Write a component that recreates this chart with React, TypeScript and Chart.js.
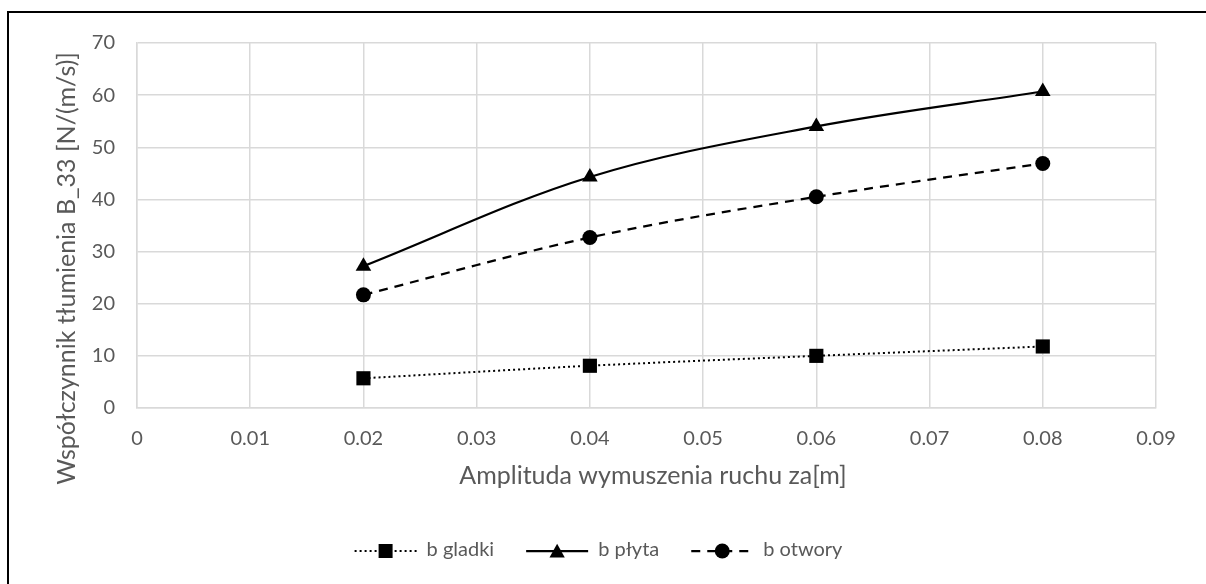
import React, { useEffect, useRef } from "react";
import { Chart, registerables } from "chart.js";

Chart.register(...registerables);

// ---- data ----
const xValues = [0.02, 0.04, 0.06, 0.08];
const gladki = [5.7, 8.1, 10.0, 11.8];
const plyta = [27.2, 44.3, 54.0, 60.7];
const otwory = [21.7, 32.7, 40.5, 46.9];
const seriesNames = ["b gladki", "b płyta", "b otwory"];
const xTickValues = [0, 0.01, 0.02, 0.03, 0.04, 0.05, 0.06, 0.07, 0.08, 0.09];
const xTickLabels = ["0", "0.01", "0.02", "0.03", "0.04", "0.05", "0.06", "0.07", "0.08", "0.09"];
const yTickValues = [0, 10, 20, 30, 40, 50, 60, 70];
const xTitle = "Amplituda wymuszenia ruchu za[m]";
const yTitle = "Współczynnik tłumienia B_33 [N/(m/s)]";

const FONT = "Lato, 'Open Sans', sans-serif";
const TEXT = "#595959";
const GRID = "#d9d9d9";

type Style = { dash: number[]; width: number; marker: string; r: number };
const styles: Style[] = [
  { dash: [2, 3], width: 2, marker: "rect", r: 7 },
  { dash: [], width: 2.25, marker: "triangle", r: 8.5 },
  { dash: [9, 7], width: 2.25, marker: "circle", r: 7.5 },
];

function drawMarker(ctx: CanvasRenderingContext2D, kind: string, x: number, y: number, r: number) {
  ctx.beginPath();
  if (kind === "rect") {
    ctx.rect(x - r, y - r, 2 * r, 2 * r);
  } else if (kind === "triangle") {
    const h = r * 1.5;
    ctx.moveTo(x, y - h / 2 - 1);
    ctx.lineTo(x + r * 0.9, y + h / 2);
    ctx.lineTo(x - r * 0.9, y + h / 2);
    ctx.closePath();
  } else {
    ctx.arc(x, y, r, 0, Math.PI * 2);
  }
  ctx.fillStyle = "#000";
  ctx.fill();
}

const overlay = {
  id: "overlay",
  beforeDraw(chart: any) {
    const ctx = chart.ctx as CanvasRenderingContext2D;
    ctx.save();
    ctx.fillStyle = "#fff";
    ctx.fillRect(0, 0, chart.width, chart.height);
    ctx.fillStyle = "#000";
    ctx.fillRect(7, 11, 2, chart.height - 11);
    ctx.fillRect(7, 11, chart.width - 7, 2);
    ctx.restore();
  },
  afterDraw(chart: any) {
    const ctx = chart.ctx as CanvasRenderingContext2D;
    ctx.save();
    ctx.fillStyle = TEXT;
    ctx.font = `25px ${FONT}`;
    ctx.textAlign = "center";
    ctx.textBaseline = "middle";
    ctx.fillText(xTitle, 653, 476);
    const yw = ctx.measureText(yTitle).width;
    ctx.save();
    ctx.translate(67, 52 + yw / 2);
    ctx.rotate(-Math.PI / 2);
    ctx.fillText(yTitle, 0, 0);
    ctx.restore();

    // legend
    ctx.font = `20px ${FONT}`;
    ctx.textAlign = "left";
    const ly = 550;
    const lineLen = 62;
    const gapText = 10;
    const gapItem = 32;
    let total = 0;
    const widths = seriesNames.map((n) => ctx.measureText(n).width);
    widths.forEach((w, i) => {
      total += lineLen + gapText + w + (i < widths.length - 1 ? gapItem : 0);
    });
    let x = 598.5 - total / 2;
    seriesNames.forEach((name, i) => {
      const s = styles[i];
      ctx.save();
      ctx.strokeStyle = "#000";
      ctx.lineWidth = s.width;
      ctx.setLineDash(s.dash);
      ctx.beginPath();
      ctx.moveTo(x, ly + 1);
      ctx.lineTo(x + lineLen, ly + 1);
      ctx.stroke();
      ctx.restore();
      drawMarker(ctx, s.marker, x + lineLen / 2, ly + 1, s.r);
      ctx.fillStyle = TEXT;
      ctx.fillText(name, x + lineLen + gapText, ly);
      x += lineLen + gapText + widths[i] + gapItem;
    });
    ctx.restore();
  },
};

export default function App() {
  const ref = useRef<HTMLCanvasElement | null>(null);
  useEffect(() => {
    if (!ref.current) return;
    const mk = (vals: number[]) => xValues.map((x, i) => ({ x, y: vals[i] }));
    const chart = new Chart(ref.current, {
      type: "line",
      data: {
        datasets: [
          {
            label: seriesNames[0],
            data: mk(gladki),
            borderColor: "#000",
            backgroundColor: "#000",
            borderWidth: styles[0].width,
            borderDash: styles[0].dash,
            pointStyle: "rect",
            pointRadius: 10,
            pointBorderWidth: 0,
            tension: 0.35,
          },
          {
            label: seriesNames[1],
            data: mk(plyta),
            borderColor: "#000",
            backgroundColor: "#000",
            borderWidth: styles[1].width,
            pointStyle: "triangle",
            pointRadius: 9,
            pointBorderWidth: 0,
            tension: 0.35,
          },
          {
            label: seriesNames[2],
            data: mk(otwory),
            borderColor: "#000",
            backgroundColor: "#000",
            borderWidth: styles[2].width,
            borderDash: styles[2].dash,
            pointStyle: "circle",
            pointRadius: 7.5,
            pointBorderWidth: 0,
            tension: 0.35,
          },
        ],
      },
      options: {
        animation: false,
        responsive: false,
        maintainAspectRatio: false,
        clip: false as any,
        layout: { padding: { top: 43, right: 50, left: 0, bottom: 0 } },
        plugins: { legend: { display: false }, tooltip: { enabled: false }, title: { display: false } },
        scales: {
          x: {
            type: "linear",
            min: 0,
            max: 0.09,
            afterBuildTicks: (s: any) => {
              s.ticks = xTickValues.map((v) => ({ value: v }));
            },
            afterFit: (s: any) => {
              s.height = 176;
            },
            ticks: {
              color: TEXT,
              font: { family: FONT, size: 20 },
              padding: 19,
              maxRotation: 0,
              autoSkip: false,
              callback: (v: any) => {
                const i = xTickValues.findIndex((t) => Math.abs(t - v) < 1e-9);
                return i >= 0 ? xTickLabels[i] : "";
              },
            },
            grid: { color: GRID, lineWidth: 1.5, drawTicks: false },
            border: { color: GRID, width: 1.5 },
          },
          y: {
            type: "linear",
            min: 0,
            max: 70,
            afterBuildTicks: (s: any) => {
              s.ticks = yTickValues.map((v) => ({ value: v }));
            },
            afterFit: (s: any) => {
              s.width = 137;
            },
            ticks: {
              color: TEXT,
              font: { family: FONT, size: 20 },
              padding: 22,
              callback: (v: any) => String(v),
            },
            grid: { color: GRID, lineWidth: 1.5, drawTicks: false },
            border: { color: GRID, width: 1.5 },
          },
        },
      },
      plugins: [overlay],
    });
    return () => chart.destroy();
  }, []);
  return (
    <div style={{ position: "absolute", left: 0, top: 0, width: 1206, height: 584 }}>
      <canvas ref={ref} width={1206} height={584} style={{ display: "block", width: 1206, height: 584 }} />
    </div>
  );
}
